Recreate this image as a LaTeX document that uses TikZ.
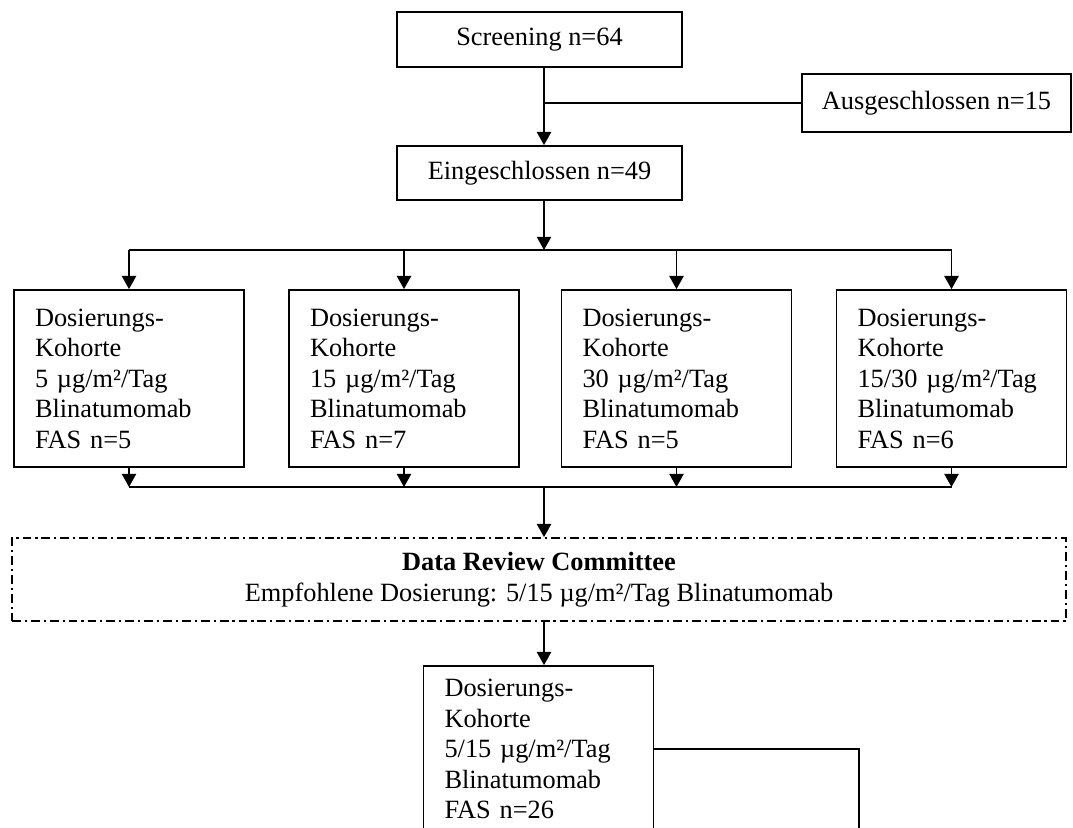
\documentclass[tikz,border=0pt]{standalone}
\usepackage{fontspec}
\setmainfont{Liberation Serif}
\usetikzlibrary{arrows.meta,positioning}
\newcommand{\pu}{0.016cm}
\tikzset{
  stage/.style={draw,line width=0.8pt,minimum height=55*\pu,inner sep=0pt,font=\fontsize{12pt}{13.9pt}\selectfont},
  kohorte/.style={draw,line width=0.8pt,text width=188*\pu,align=left,inner xsep=21*\pu,inner ysep=0pt,minimum height=177*\pu,font=\fontsize{12pt}{13.9pt}\selectfont},
  drc/.style={draw,line width=0.8pt,dash pattern=on 4pt off 1.8pt on 1pt off 1.8pt,align=center,inner sep=0pt,minimum width=1054*\pu,minimum height=83*\pu,font=\fontsize{12pt}{13.9pt}\selectfont},
  flow/.style={-{Triangle[length=6pt,width=6.5pt]},line width=0.8pt},
  link/.style={line width=0.8pt},
}
\begin{document}
\begin{tikzpicture}[x=0.016cm,y=-0.016cm]
        \useasboundingbox (0,0) rectangle (1073,828);
        \clip (0,0) rectangle (1073,828);
        \node[stage,minimum width=285*\pu] (scr) at (539.5,39.5) {Screening n=64};
        \node[stage,minimum width=285*\pu,minimum height=54*\pu] (ein) at (539.5,173) {Eingeschlossen n=49};
        \node[stage,minimum width=269*\pu,minimum height=58*\pu] (aus) at (936.5,103) {Ausgeschlossen n=15};
        \coordinate (tr) at (544,0);
        \coordinate (excl) at (544,103);
        \coordinate (split) at (544,250);
        \coordinate (merge) at (544,487);
        \draw[flow] (scr.south -| tr) -- (ein.north -| tr);
        \draw[link] (excl) -- (aus.west);
        \draw[flow] (ein.south -| tr) -- (split);
        \foreach \x/\d/\n [count=\i] in {129/5/5,404/15/7,676.5/30/5,951.5/{15/30}/6}
          \node[kohorte] (k\i) at (\x,378.5) {Dosierungs-\\Kohorte\\\d{} µg/m²/Tag\\Blinatumomab\\FAS n=\n};
        \draw[link] (k1.north |- split) -- (k4.north |- split);
        \draw[link] (k1.south |- merge) -- (k4.south |- merge);
        \foreach \i in {1,...,4} {
          \draw[flow] (k\i.north |- split) -- (k\i.north);
          \draw[flow] (k\i.south) -- (k\i.south |- merge);
        }
        \node[drc] (rev) at (539,579.5) {\textbf{Data Review Committee}\\Empfohlene Dosierung: 5/15 µg/m²/Tag Blinatumomab};
        \draw[flow] (merge) -- (rev.north -| merge);
        \node[kohorte,minimum height=166*\pu] (fin) at (538.5,749) {Dosierungs-\\Kohorte\\5/15 µg/m²/Tag\\Blinatumomab\\FAS n=26};
        \draw[flow] (rev.south -| tr) -- (fin.north -| tr);
        \coordinate (tail) at (859,850);
        \draw[link] (fin.east) -| (tail);
      \end{tikzpicture}
\end{document}
